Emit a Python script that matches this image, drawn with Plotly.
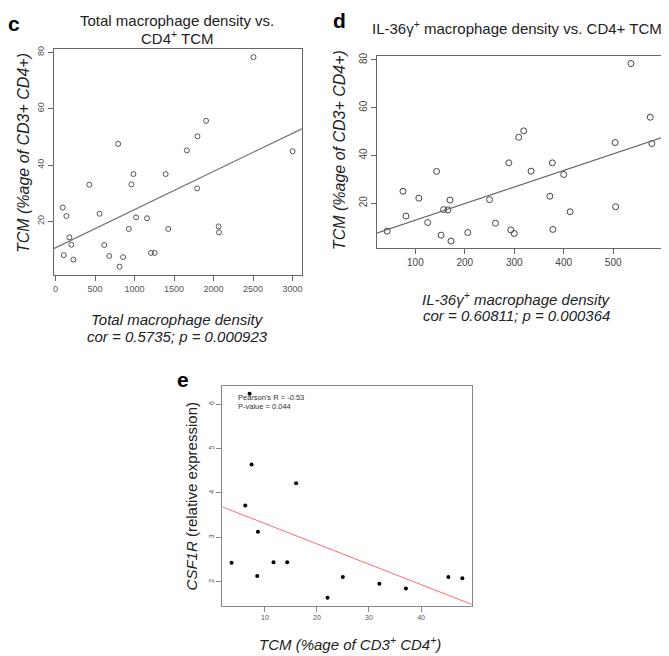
import plotly.graph_objects as go

# ---------------- data ----------------
# panel c: total macrophage density vs CD4+ TCM
c_density = [2505, 1905, 1796, 1662, 3000, 793, 986, 1393, 961, 428, 1792, 92, 138, 558, 1020,
             1158, 927, 1427, 2064, 2069, 176, 201, 617, 105, 227, 680, 856, 1208, 1255, 810]
c_tcm = [78.3, 55.7, 50.2, 45.2, 44.9, 47.5, 36.8, 36.8, 33.1, 33.0, 31.7, 24.9, 21.9, 22.7, 21.4,
         21.1, 17.3, 17.3, 18.2, 16.1, 14.3, 11.7, 11.6, 8.0, 6.4, 7.7, 7.3, 8.8, 8.8, 3.9]
c_fit = [10.6, 0.01356]   # intercept, slope

# panel d: IL-36g+ macrophage density vs CD4+ TCM
d_density = [536, 575, 578, 504, 319, 309, 289, 377, 334, 400, 143, 75, 107, 170, 250,
             372, 157, 166, 81, 125, 262, 413, 505, 43, 152, 172, 206, 293, 300, 378]
d_tcm = [78.5, 56.0, 45.0, 45.4, 50.3, 47.6, 36.9, 36.9, 33.4, 32.0, 33.3, 25.0, 22.1, 21.3, 21.5,
         22.9, 17.3, 17.2, 14.6, 11.9, 11.6, 16.4, 18.5, 8.3, 6.6, 4.1, 7.7, 8.8, 7.3, 9.0]
d_fit = [5.95, 0.0694]

# panel e: TCM vs CSF1R expression
e_tcm = [7.06, 7.44, 6.23, 16.0, 8.66, 3.6, 11.66, 14.29, 8.53, 24.97, 22.03, 32.0, 37.1, 45.25, 47.94]
e_csf1r = [6.23, 4.64, 3.72, 4.22, 3.13, 2.43, 2.44, 2.44, 2.13, 2.11, 1.64, 1.96, 1.85, 2.11, 2.08]
e_fit = [3.77, -0.0458]

c_xticks = [0, 500, 1000, 1500, 2000, 2500, 3000]
c_yticks = [20, 40, 60, 80]
d_xticks = [100, 200, 300, 400, 500]
d_yticks = [20, 40, 60, 80]
e_xticks = [10, 20, 30, 40]
e_yticks = [2, 3, 4, 5, 6]

PAGE_W, PAGE_H = 669, 656
OFF = 8  # default body margin of the html page
W, H = PAGE_W - OFF, PAGE_H - OFF
FONT = "Liberation Sans"


def rrange(v):
    lo, hi = min(v), max(v)
    pad = (hi - lo) * 0.04
    return [lo - pad, hi + pad]


def fit_line(fit, xr):
    span = xr[1] - xr[0]
    xs = [xr[0] - span, xr[1] + span]
    return xs, [fit[0] + fit[1] * x for x in xs]


def fx(p):
    return (p - OFF) / W


def fy(p):
    return 1 - (p - OFF) / H


def dom_x(p0, p1):
    return [fx(p0), fx(p1)]


def dom_y(top, bottom):
    return [fy(bottom), fy(top)]


fig = go.Figure()

cxr, cyr = rrange(c_density), rrange(c_tcm)
dxr, dyr = rrange(d_density), rrange(d_tcm)
exr, eyr = rrange(e_tcm), rrange(e_csf1r)

# panel c
fig.add_trace(go.Scatter(x=c_density, y=c_tcm, mode="markers", xaxis="x", yaxis="y",
                         marker=dict(symbol="circle-open", size=5, color="#555555", line=dict(width=1, color="#555555")),
                         showlegend=False))
lx, ly = fit_line(c_fit, cxr)
fig.add_trace(go.Scatter(x=lx, y=ly, mode="lines", xaxis="x", yaxis="y",
                         line=dict(color="#777777", width=1.2), showlegend=False))

# panel d
fig.add_trace(go.Scatter(x=d_density, y=d_tcm, mode="markers", xaxis="x2", yaxis="y2",
                         marker=dict(symbol="circle-open", size=6, color="#444444", line=dict(width=1, color="#444444")),
                         showlegend=False))
lx, ly = fit_line(d_fit, dxr)
fig.add_trace(go.Scatter(x=lx, y=ly, mode="lines", xaxis="x2", yaxis="y2",
                         line=dict(color="#666666", width=1.2), showlegend=False))

# panel e
fig.add_trace(go.Scatter(x=e_tcm, y=e_csf1r, mode="markers", xaxis="x3", yaxis="y3",
                         marker=dict(symbol="circle", size=4, color="#000000"), showlegend=False))
lx, ly = fit_line(e_fit, exr)
fig.add_trace(go.Scatter(x=lx, y=ly, mode="lines", xaxis="x3", yaxis="y3",
                         line=dict(color="#ff6b6b", width=1), showlegend=False))


def axis(domain, rng, ticks, anchor, size, color, angle=0, linecolor="#666666"):
    return dict(domain=domain, range=rng, tickmode="array", tickvals=ticks,
                ticktext=[str(t) for t in ticks], anchor=anchor,
                showline=True, mirror=True, linecolor=linecolor, linewidth=1,
                ticks="outside", ticklen=5, tickcolor=linecolor, tickwidth=1,
                showgrid=False, zeroline=False, tickangle=angle,
                tickfont=dict(family=FONT, size=size, color=color))


fig.update_layout(
    width=W, height=H, margin=dict(l=0, r=0, t=0, b=0),
    paper_bgcolor="white", plot_bgcolor="white",
    xaxis=axis(dom_x(52.7, 301.7), cxr, c_xticks, "y", 9, "#555555"),
    yaxis=axis(dom_y(45, 272.7), cyr, c_yticks, "x", 9, "#555555", angle=-90),
    xaxis2=axis(dom_x(376.7, 663.3), dxr, d_xticks, "y2", 10, "#444444"),
    yaxis2=axis(dom_y(52.7, 245.7), dyr, d_yticks, "x2", 10, "#444444", angle=-90),
    xaxis3=axis(dom_x(222, 472), exr, e_xticks, "y3", 7, "#555555", linecolor="#888888"),
    yaxis3=axis(dom_y(384, 605.7), eyr, e_yticks, "x3", 7, "#555555", angle=-90, linecolor="#888888"),
)


def ann(text, px, py, size, color="#111111", angle=0, xanchor="center", yanchor="middle", bold=False):
    if bold:
        text = "<b>" + text + "</b>"
    fig.add_annotation(text=text, x=fx(px), y=fy(py), xref="paper", yref="paper",
                       showarrow=False, xanchor=xanchor, yanchor=yanchor, textangle=angle,
                       font=dict(family=FONT, size=size, color=color))


# panel labels
ann("c", 13, 20, 21, "#000000", bold=True)
ann("d", 340, 17, 21, "#000000", bold=True)
ann("e", 183, 378, 21, "#000000", bold=True)

# panel c texts
ann("Total macrophage density vs.", 177, 17, 15, "#222222")
ann("CD4<sup>+</sup> TCM", 177, 34, 15, "#222222")
ann("<i>Total macrophage density</i>", 177, 317, 15, "#222222")
ann("<i>cor = 0.5735; p = 0.000923</i>", 177, 335, 15, "#222222")
ann("<i>TCM (%age of CD3+ CD4+)</i>", 22, 150, 16, "#222222", angle=-90)

# panel d texts
ann("IL-36γ<sup>+</sup> macrophage density vs. CD4+ TCM", 518, 24, 15, "#222222")
ann("<i>IL-36γ<sup>+</sup> macrophage density</i>", 517, 296, 15, "#222222")
ann("<i>cor = 0.60811; p = 0.000364</i>", 517, 313, 15, "#222222")
ann("<i>TCM (%age of CD3+ CD4+)</i>", 339, 147, 16, "#222222", angle=-90)

# panel e texts
ann("Pearson's R = -0.53", 236, 396, 7.5, "#333333", xanchor="left")
ann("P-value = 0.044", 236, 405, 7.5, "#333333", xanchor="left")
ann("<i>TCM (%age of CD3<sup>+</sup> CD4<sup>+</sup>)</i>", 350, 643, 15, "#222222")
ann("<i>CSF1R</i> (relative expression)", 192, 495, 15, "#222222", angle=-90)

fig.write_html("out.html")
